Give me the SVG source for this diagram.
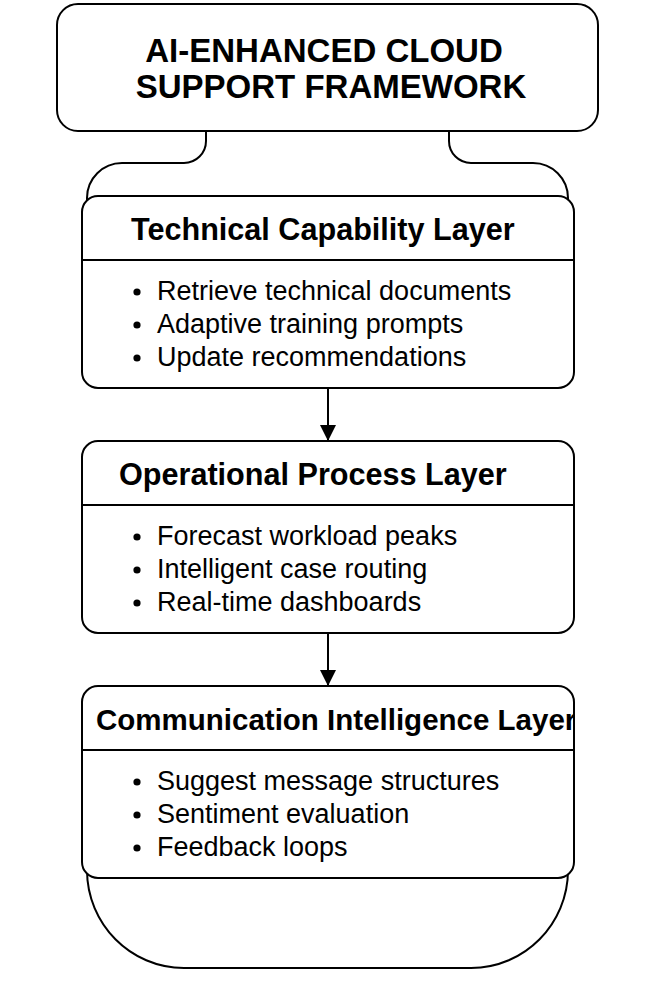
<svg xmlns="http://www.w3.org/2000/svg" width="656" height="984" viewBox="0 0 656 984">
<style>
.box{fill:#fff;stroke:#000;stroke-width:2}
.ln{fill:none;stroke:#000;stroke-width:2}
.title{font-family:"Liberation Sans",Arial,sans-serif;font-weight:bold;font-size:33px;fill:#000;text-anchor:middle}
.hdr{font-family:"Liberation Sans",Arial,sans-serif;font-weight:bold;font-size:30.6px;fill:#000}
.item{font-family:"Liberation Sans",Arial,sans-serif;font-size:27px;fill:#000}
.dot{fill:#000}
</style>
<defs>
<marker id="arr" markerWidth="16" markerHeight="18" refX="15" refY="8" orient="auto" markerUnits="userSpaceOnUse">
<path d="M0,0 L16,8 L0,16 Z" fill="#000"/>
</marker>
<clipPath id="clip3"><rect x="83" y="687" width="490" height="62"/></clipPath>
</defs>
<rect width="656" height="984" fill="#fff"/>
<g id="connectors">
<path id="container-top" class="ln" d="M87,215 V198 C87,178.67 102.67,163 122,163 H184 C196.15,163 206,153.15 206,141 V131 M568,215 V198 C568,178.67 552.33,163 533,163 H471 C458.85,163 449,153.15 449,141 V131"/>
<path id="container-bottom" class="ln" d="M87,860 V870 C87,924 130.4,968 184,968 H471 C524.6,968 568,924 568,870 V860"/>
<line class="ln" x1="328" y1="388" x2="328" y2="440" marker-end="url(#arr)"/>
<line class="ln" x1="328" y1="633" x2="328" y2="685" marker-end="url(#arr)"/>
</g>
<g id="title">
<rect class="box" x="57" y="4" width="541" height="127" rx="21"/>
<text class="title" x="324" y="62">AI-ENHANCED CLOUD</text>
<text class="title" x="331" y="98">SUPPORT FRAMEWORK</text>
</g>
<g id="technical">
<rect class="box" x="82" y="196" width="492" height="192" rx="16"/>
<line class="ln" x1="82" y1="260" x2="574" y2="260"/>
<text class="hdr" x="131" y="240">Technical Capability Layer</text>
<circle class="dot" cx="137" cy="292" r="3.6"/>
<circle class="dot" cx="137" cy="325" r="3.6"/>
<circle class="dot" cx="137" cy="358" r="3.6"/>
<text class="item" x="157" y="300">Retrieve technical documents</text>
<text class="item" x="157" y="333">Adaptive training prompts</text>
<text class="item" x="157" y="366">Update recommendations</text>
</g>
<g id="operational">
<rect class="box" x="82" y="441" width="492" height="192" rx="16"/>
<line class="ln" x1="82" y1="505" x2="574" y2="505"/>
<text class="hdr" x="119" y="485">Operational Process Layer</text>
<circle class="dot" cx="137" cy="537" r="3.6"/>
<circle class="dot" cx="137" cy="570" r="3.6"/>
<circle class="dot" cx="137" cy="603" r="3.6"/>
<text class="item" x="157" y="545">Forecast workload peaks</text>
<text class="item" x="157" y="578">Intelligent case routing</text>
<text class="item" x="157" y="611">Real-time dashboards</text>
</g>
<g id="communication">
<rect class="box" x="82" y="686" width="492" height="192" rx="16"/>
<line class="ln" x1="82" y1="750" x2="574" y2="750"/>
<text class="hdr" x="96" y="730" clip-path="url(#clip3)" style="font-size:29.5px">Communication Intelligence Layer</text>
<circle class="dot" cx="137" cy="782" r="3.6"/>
<circle class="dot" cx="137" cy="815" r="3.6"/>
<circle class="dot" cx="137" cy="848" r="3.6"/>
<text class="item" x="157" y="790">Suggest message structures</text>
<text class="item" x="157" y="823">Sentiment evaluation</text>
<text class="item" x="157" y="856">Feedback loops</text>
</g>
</svg>
